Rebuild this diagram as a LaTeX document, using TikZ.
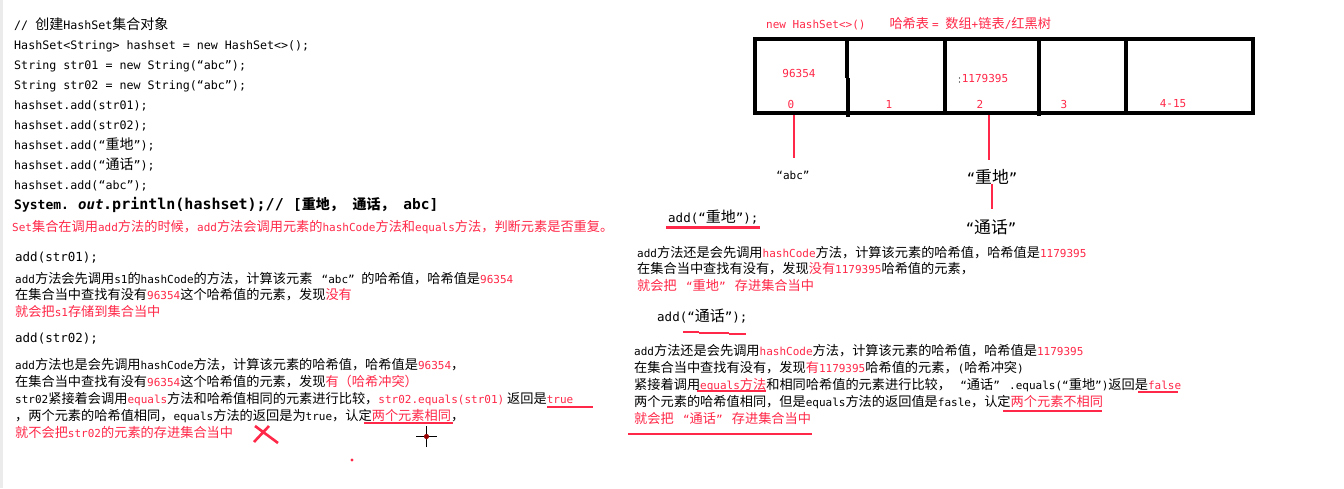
\documentclass[tikz,border=0pt]{standalone}
\usepackage{fontspec}
\setmainfont{DejaVu Sans Mono}
\newfontfamily\cjkfam[Scale=1.2]{Noto Sans CJK SC}
\XeTeXinterchartokenstate=1
\newXeTeXintercharclass\CJKcls
\makeatletter
\count@="4E00
\loop\ifnum\count@<"A000 \XeTeXcharclass\count@=\CJKcls \advance\count@ 1 \repeat
\count@="3000
\loop\ifnum\count@<"3040 \XeTeXcharclass\count@=\CJKcls \advance\count@ 1 \repeat
\count@="FF00
\loop\ifnum\count@<"FF60 \XeTeXcharclass\count@=\CJKcls \advance\count@ 1 \repeat
\makeatother
\XeTeXinterchartoks 0 \CJKcls = {\cjkfam}
\XeTeXinterchartoks 4095 \CJKcls = {\cjkfam}
\XeTeXinterchartoks \CJKcls 0 = {\rmfamily}
\XeTeXinterchartoks 4095 0 = {\rmfamily}
\definecolor{myred}{RGB}{255,40,72}
\newcommand\rd[1]{\textcolor{myred}{#1}}
\newcommand\oq{\makebox[1.2em][r]{“}}
\newcommand\cq{\makebox[1.2em][l]{”}}
\tikzset{
  code/.style={anchor=base west, inner sep=0pt, font=\fontsize{11.67}{14}\selectfont},
  expl/.style={anchor=base west, inner sep=0pt, font=\fontsize{11}{13}\selectfont},
  call/.style={anchor=base west, inner sep=0pt, font=\fontsize{12.5}{15}\selectfont},
  boldcode/.style={anchor=base west, inner sep=0pt, font=\fontsize{14.5}{16}\selectfont\bfseries},
  tlabel/.style={inner sep=0pt, font=\fontsize{11}{13}\selectfont, text=myred},
  biglabel/.style={inner sep=0pt, font=\fontsize{14}{16}\selectfont},
  redline/.style={draw=myred, line width=2.5pt},
  tableline/.style={draw=black, line width=3.4pt},
}
\begin{document}
\begin{tikzpicture}[x=1pt,y=-1pt]
\useasboundingbox (0,0) rectangle (1344,488);
\fill[white] (0,0) rectangle (1344,488);
\fill[black!8] (0,0) rectangle (3,488);
% ---------- left code ----------
\node[code] (l1) at (14,29) {// 创建HashSet集合对象};
\node[code] (l2) at (14,49) {HashSet<String> hashset = new HashSet<>();};
\node[code] (l3) at (14,69) {String str01 = new String(“abc”);};
\node[code] (l4) at (14,89) {String str02 = new String(“abc”);};
\node[code] (l5) at (14,109) {hashset.add(str01);};
\node[code] (l6) at (14,129) {hashset.add(str02);};
\node[code] (l7) at (14,149) {hashset.add(“重地”);};
\node[code] (l8) at (14,169) {hashset.add(“通话”);};
\node[code] (l9) at (14,189) {hashset.add(“abc”);};
\node[boldcode, font=\fontsize{13}{15}\selectfont\bfseries] (l10a) at (14,209) {System.};
\node[boldcode, font=\fontsize{14}{15}\selectfont\bfseries\itshape] (l10b) at (78,209) {out};
\node[boldcode, font=\fontsize{15}{16}\selectfont\bfseries] (l10c) at (103,209) {.println(hashset);//};
\node[boldcode] (l10d) at (293,209) {[{\fontsize{11.67}{14}\selectfont 重地，} {\fontsize{11.67}{14}\selectfont 通话，} abc]};
\node[expl, text=myred] (setline) at (12,231) {Set集合在调用add方法的时候，add方法会调用元素的hashCode方法和equals方法，判断元素是否重复。};
% ---------- add(str01) ----------
\node[call] (a1) at (15,261) {add(str01);};
\node[expl] (a1e1) at (15,283) {add方法会先调用s1的hashCode的方法，计算该元素\oq abc\cq 的哈希值，哈希值是\rd{96354}};
\node[expl] (a1e2) at (15,299) {在集合当中查找有没有\rd{96354}这个哈希值的元素，发现\rd{没有}};
\node[expl, text=myred] (a1e3) at (15,316) {就会把s1存储到集合当中};
% ---------- add(str02) ----------
\node[call] (a2) at (15,342) {add(str02);};
\node[expl] (a2e1) at (15,369) {add方法也是会先调用hashCode方法，计算该元素的哈希值，哈希值是\rd{96354}，};
\node[expl] (a2e2) at (15,386) {在集合当中查找有没有\rd{96354}这个哈希值的元素，发现\rd{有（哈希冲突）}};
\node[expl] (a2e3) at (15,403) {str02紧接着会调用\rd{equals}方法和哈希值相同的元素进行比较，\rd{str02.equals(str01)} 返回是\rd{true}};
\node[expl] (a2e4) at (15,420) {，两个元素的哈希值相同，equals方法的返回是为true，认定\rd{两个元素相同}，};
\node[expl, text=myred] (a2e5) at (15,437) {就不会把str02的元素的存进集合当中};
\coordinate (u1a) at (547,407); \coordinate (u1b) at (593,407);
\draw[redline] (u1a) -- (u1b);
\coordinate (u2a) at (364,423); \coordinate (u2b) at (453,423);
\draw[redline] (u2a) -- (u2b);
% red cross
\coordinate (x1) at (255,426); \coordinate (x2) at (278,443);
\coordinate (x3) at (269,426); \coordinate (x4) at (254,442);
\draw[draw=myred, line width=2.6pt] (x1) -- (x2) (x3) -- (x4);
% crosshair
\coordinate (ch) at (426.5,436.5);
\draw[black, line width=1pt] ([xshift=-10.5pt]ch) -- ([xshift=10.5pt]ch) ([yshift=-10.5pt]ch) -- ([yshift=10.5pt]ch);
\fill[red!60!black] (ch) circle (2.6pt);
\coordinate (dot) at (352,460);
\fill[myred] (dot) circle (1.6pt);
% ---------- right: hash table ----------
\node[anchor=base west, inner sep=0pt, font=\fontsize{11}{13}\selectfont, text=myred] (title) at (766,28) {new HashSet<>()\hspace{24pt}哈希表 = 数组+链表/红黑树};
\draw[tableline] (755,39) rectangle (1253,113);
\draw[tableline] (847,39) -- (847,78);
\draw[tableline] (848,78) -- (848,117);
\draw[tableline] (945,39) -- (945,113);
\draw[tableline] (1039,39) -- (1039,116);
\draw[tableline] (1126,39) -- (1126,113);
\node[tlabel] (v0) at (799,73) {96354};
\node[tlabel] (v2) at (985,78) {1179395};
\fill[black] (959.5,78) circle (0.6pt) (959.5,82) circle (0.6pt);
\node[tlabel] (i0) at (791,104) {0};
\node[tlabel] (i1) at (889,104) {1};
\node[tlabel] (i2) at (980,104) {2};
\node[tlabel] (i3) at (1064,104) {3};
\node[tlabel] (i4) at (1173,104) {4-15};
% values below table
\node[inner sep=0pt, font=\fontsize{11}{13}\selectfont] (abc) at (793,175) {\makebox[8pt][r]{“}abc\makebox[8pt][l]{”}};
\node[biglabel] (zd) at (992,177) {“重地”};
\node[biglabel] (th) at (991,227) {“通话”};
\coordinate (t0) at (794,115); \coordinate (t0e) at (794,158);
\coordinate (t2) at (989,115); \coordinate (t2e) at (989,160);
\coordinate (zd1) at (992,184); \coordinate (zd2) at (992,209);
\draw[redline] (t0) -- (t0e);
\draw[redline] (t2) -- (t2e);
\draw[redline] (zd1) -- (zd2);
% ---------- add("重地") ----------
\node[call] (r1) at (668,222) {add(“重地”);};
\coordinate (r1a) at (666,227.5); \coordinate (r1b) at (760,227.5);
\draw[redline] (r1a) -- (r1b);
\node[expl] (r1e1) at (637,257) {add方法还是会先调用\rd{hashCode}方法，计算该元素的哈希值，哈希值是\rd{1179395}};
\node[expl] (r1e2) at (637,273) {在集合当中查找有没有，发现\rd{没有1179395}哈希值的元素，};
\node[expl, text=myred] (r1e3) at (637,290) {就会把\oq 重地\cq 存进集合当中};
% ---------- add("通话") ----------
\node[call] (r2) at (657,321) {add(“通话”);};
\coordinate (r2a) at (683,332); \coordinate (r2b) at (699,332);
\coordinate (r2c) at (699,333); \coordinate (r2d) at (729,333);
\coordinate (r2e) at (729,334); \coordinate (r2f) at (746,334);
\draw[redline] (r2a) -- (r2b) (r2c) -- (r2d) (r2e) -- (r2f);
\node[expl] (r2e1) at (634,355) {add方法还是会先调用\rd{hashCode}方法，计算该元素的哈希值，哈希值是\rd{1179395}};
\node[expl] (r2e2) at (634,372) {在集合当中查找有没有，发现\rd{有1179395}哈希值的元素，(哈希冲突)};
\node[expl] (r2e3) at (634,389) {紧接着调用\rd{equals方法}和相同哈希值的元素进行比较，\oq 通话\cq .equals(“重地”)返回是\rd{false}};
\node[expl] (r2e4) at (634,406) {两个元素的哈希值相同，但是equals方法的返回值是fasle，认定\rd{两个元素不相同}};
\node[expl, text=myred] (r2e5) at (634,423) {就会把\oq 通话\cq 存进集合当中};
\coordinate (q1a) at (697,391); \coordinate (q1b) at (766,391);
\draw[redline] (q1a) -- (q1b);
\coordinate (q2a) at (1138,392); \coordinate (q2b) at (1178,392);
\draw[redline] (q2a) -- (q2b);
\coordinate (q3a) at (1003,411); \coordinate (q3b) at (1102,411);
\draw[redline] (q3a) -- (q3b);
\coordinate (q4a) at (628,434); \coordinate (q4b) at (812,434);
\draw[redline] (q4a) -- (q4b);
\end{tikzpicture}
\end{document}
